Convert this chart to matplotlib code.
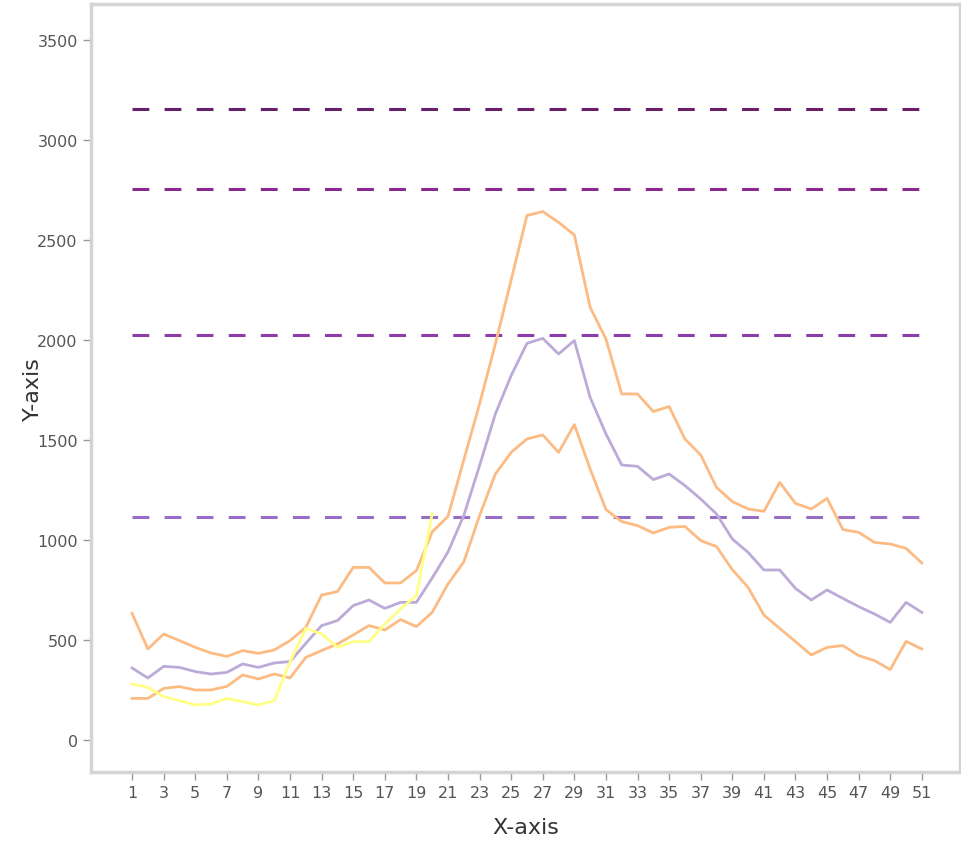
import numpy as np
import matplotlib
matplotlib.use("Agg")
import matplotlib.pyplot as plt

x = list(range(1, 52))

upper = [633, 455, 530, 497, 463, 435, 418, 447, 433, 450,
         497, 563, 725, 742, 863, 863, 785, 785, 847, 1040,
         1118, 1400, 1680, 1980, 2300, 2622, 2642, 2588, 2525, 2163,
         2005, 1730, 1730, 1642, 1667, 1505, 1425, 1263, 1192, 1155,
         1143, 1288, 1183, 1155, 1208, 1052, 1038, 988, 980, 958, 885]

middle = [360, 310, 368, 363, 342, 330, 338, 380, 363, 385,
          392, 483, 572, 597, 672, 700, 658, 688, 688, 810,
          940, 1122, 1372, 1630, 1822, 1983, 2008, 1930, 1997, 1713,
          1530, 1375, 1368, 1302, 1330, 1272, 1205, 1130, 1005, 938,
          850, 850, 758, 700, 750, 708, 667, 630, 588, 688, 638]

lower = [208, 208, 258, 267, 250, 250, 268, 325, 305, 330,
         310, 413, 447, 480, 525, 572, 550, 602, 567, 638,
         780, 890, 1122, 1330, 1438, 1505, 1525, 1438, 1577, 1355,
         1152, 1092, 1072, 1035, 1063, 1068, 997, 967, 852, 763,
         625, 558, 492, 425, 463, 472, 422, 397, 352, 493, 455]

# yellow series only runs to x = 20
yellow_x = list(range(1, 21))
yellow = [280, 263, 217, 197, 175, 180, 208, 192, 175, 197,
          390, 558, 530, 463, 492, 492, 580, 655, 722, 1130]

thresholds = [3155, 2755, 2025, 1115]
threshold_colors = ['#66206a', '#8a2a8e', '#8d3cab', '#9a6dc4']

fig = plt.figure(figsize=(9.61, 8.45), dpi=100)
ax = fig.add_axes([0.0947, 0.0852, 0.904, 0.909])

for t, c in zip(thresholds, threshold_colors):
    ax.plot([x[0], x[-1]], [t, t], color=c, lw=2.2, dashes=(5.5, 5))

ax.plot(x, upper, color='#fdbb84', lw=2.0)
ax.plot(x, lower, color='#fdbb84', lw=2.0)
ax.plot(x, middle, color='#bcaad8', lw=2.0)
ax.plot(yellow_x, yellow, color='#ffff85', lw=2.0)

ax.set_xlim(-1.6, 53.4)
ax.set_ylim(-160, 3680)
ax.set_xticks(x[::2])
ax.set_yticks(np.arange(0, 3501, 500))

for s in ax.spines.values():
    s.set_color('#d4d4d4')
    s.set_linewidth(2.5)

ax.tick_params(axis='both', colors='#999999', length=6, width=1,
               labelcolor='#555555', labelsize=11.5)
ax.set_xlabel('X-axis', fontsize=16, color='#333333', labelpad=12)
ax.set_ylabel('Y-axis', fontsize=16, color='#333333', labelpad=-4)

fig.savefig('out.png', dpi=100)
